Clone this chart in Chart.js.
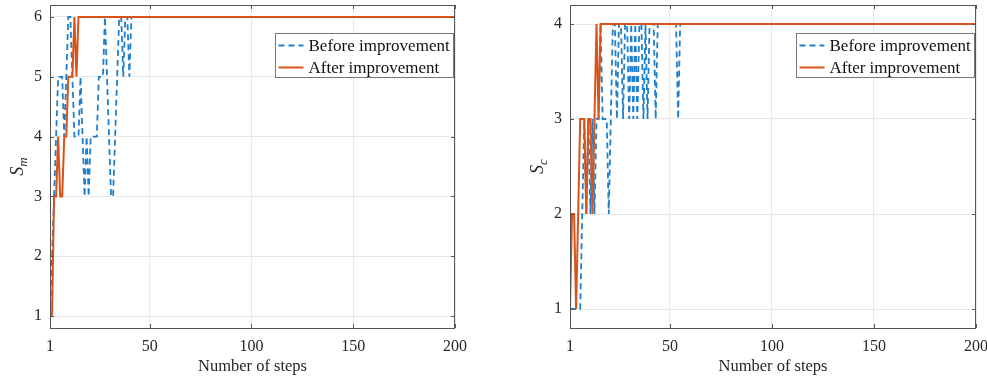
<!DOCTYPE html>
<html>
<head>
<meta charset="utf-8">
<script src="https://cdn.jsdelivr.net/npm/chart.js@4.4.1/dist/chart.umd.min.js"></script>
<style>
  html, body { margin: 0; padding: 0; background: #fff; overflow: hidden; }
  .panel { position: absolute; top: 0; height: 378px; }
  #leftPanel { left: 0; width: 493px; }
  #rightPanel { left: 494px; width: 500px; }
</style>
</head>
<body>
<div class="panel" id="leftPanel"><canvas id="smChart" width="493" height="378"></canvas></div>
<div class="panel" id="rightPanel"><canvas id="scChart" width="500" height="378"></canvas></div>
<script>
const xTicks = [1, 50, 100, 150, 200];
const finalStep = 200;
const smTicks = [1, 2, 3, 4, 5, 6];
const scTicks = [1, 2, 3, 4];
const seriesLabels = ["Before improvement", "After improvement"];

// S_m at each step, from step 1 until the value settles
const smBefore = [1, 2, 3, 4, 5, 5, 5, 4, 5, 6, 6, 5, 4, 4, 4, 5, 4, 3, 4, 3,
  4, 4, 4, 4, 5, 5, 5, 6, 5, 4, 3, 3, 4, 5, 6, 6, 5, 6, 6, 5, 6, 6];
const smAfter = [1, 1, 3, 3, 4, 3, 3, 4, 4, 5, 5, 5, 6, 5, 6];

// S_c at each step, from step 1 until the value settles
const scBefore = [1, 1, 1, 1, 1, 1, 2, 3, 2, 3, 2, 3, 2, 3, 3, 4, 3, 3, 3, 2,
  3, 4, 4, 3, 4, 4, 3, 4, 4, 3, 4, 3, 4, 3, 4, 4, 3, 4, 3, 4,
  4, 4, 3, 4, 4, 4, 4, 4, 4, 4, 4, 4, 4, 3, 4];
const scAfter = [1, 2, 2, 1, 2, 3, 3, 3, 2, 3, 3, 2, 3, 4, 3, 4];

const blue = "#1f7fcc";
const orange = "#d95319";
const serif = "'Liberation Serif', 'Times New Roman', serif";

Chart.defaults.font.family = serif;
Chart.defaults.color = "#262626";

// hold the last value flat up to the final step
function toPoints(values) {
  const pts = values.map((v, i) => ({ x: i + 1, y: v }));
  pts.push({ x: finalStep, y: values[values.length - 1] });
  return pts;
}

// box, inward ticks, legend and y label drawn over the plot
const frameDecor = {
  id: "frameDecor",
  afterDraw(chart, args, opts) {
    const { ctx, chartArea: a, scales } = chart;
    ctx.save();

    // inward ticks
    ctx.strokeStyle = "#555";
    ctx.lineWidth = 1;
    ctx.beginPath();
    scales.x.ticks.forEach((t) => {
      const px = Math.round(scales.x.getPixelForValue(t.value)) + 0.5;
      ctx.moveTo(px, a.bottom); ctx.lineTo(px, a.bottom - 4);
      ctx.moveTo(px, a.top); ctx.lineTo(px, a.top + 4);
    });
    scales.y.ticks.forEach((t) => {
      const py = Math.round(scales.y.getPixelForValue(t.value)) + 0.5;
      ctx.moveTo(a.left, py); ctx.lineTo(a.left + 4, py);
      ctx.moveTo(a.right, py); ctx.lineTo(a.right - 4, py);
    });
    ctx.stroke();
    ctx.strokeRect(Math.round(a.left) + 0.5, Math.round(a.top) + 0.5,
      Math.round(a.width) - 1, Math.round(a.height));

    // legend
    const bw = 178, bh = 44;
    const bx = Math.round(a.right - 2 - bw) + 0.5;
    const by = Math.round(a.top + 28) + 0.5;
    ctx.fillStyle = "#fff";
    ctx.fillRect(bx, by, bw, bh);
    ctx.strokeStyle = "#777";
    ctx.strokeRect(bx, by, bw, bh);
    ctx.font = "17px " + serif;
    ctx.textBaseline = "middle";
    chart.data.datasets.forEach((ds, i) => {
      const ly = by + 12 + i * 22;
      ctx.strokeStyle = ds.borderColor;
      ctx.lineWidth = ds.borderWidth;
      ctx.setLineDash(ds.borderDash || []);
      ctx.beginPath();
      ctx.moveTo(bx + 3, ly); ctx.lineTo(bx + 28, ly);
      ctx.stroke();
      ctx.setLineDash([]);
      ctx.fillStyle = "#111";
      ctx.fillText(ds.label, bx + 33, ly + 1);
    });

    // y axis label with subscript
    ctx.translate(opts.labelX, (a.top + a.bottom) / 2);
    ctx.rotate(-Math.PI / 2);
    ctx.fillStyle = "#262626";
    ctx.font = "italic 18px " + serif;
    const sw = ctx.measureText(opts.symbol).width;
    ctx.font = "italic 13px " + serif;
    const subw = ctx.measureText(opts.sub).width;
    const x0 = -(sw + subw) / 2;
    ctx.textBaseline = "alphabetic";
    ctx.font = "italic 18px " + serif;
    ctx.fillText(opts.symbol, x0, 5);
    ctx.font = "italic 13px " + serif;
    ctx.fillText(opts.sub, x0 + sw, 9);
    ctx.restore();
  },
};
Chart.register(frameDecor);

function makeChart(canvasId, before, after, yMin, yMax, yTicks, sub, padLeft, padRight, labelX) {
  const ctx = document.getElementById(canvasId).getContext("2d");
  return new Chart(ctx, {
    type: "line",
    data: {
      datasets: [
        {
          label: seriesLabels[0],
          data: toPoints(before),
          borderColor: blue,
          borderWidth: 1.8,
          borderDash: [6, 4],
          pointRadius: 0,
          order: 1,
        },
        {
          label: seriesLabels[1],
          data: toPoints(after),
          borderColor: orange,
          borderWidth: 2,
          pointRadius: 0,
          order: 0,
        },
      ],
    },
    options: {
      responsive: false,
      animation: false,
      layout: { padding: { left: padLeft, right: padRight, top: 5, bottom: 0 } },
      plugins: {
        legend: { display: false },
        tooltip: { enabled: false },
        frameDecor: { symbol: "S", sub: sub, labelX: labelX },
      },
      scales: {
        x: {
          type: "linear",
          min: 1,
          max: finalStep,
          afterBuildTicks: (scale) => { scale.ticks = xTicks.map((v) => ({ value: v })); },
          afterFit: (scale) => {
            scale.height = 50;
            scale.paddingLeft = 0;
            scale.paddingRight = 0;
          },
          ticks: { font: { size: 16 }, padding: 9, maxRotation: 0 },
          grid: { color: "#e8e8e8", drawTicks: false },
          border: { display: false },
          title: { display: true, text: "Number of steps", font: { size: 16.5 }, padding: { top: 0, bottom: 1 } },
        },
        y: {
          type: "linear",
          min: yMin,
          max: yMax,
          afterBuildTicks: (scale) => { scale.ticks = yTicks.map((v) => ({ value: v })); },
          afterFit: (scale) => {
            scale.width = 50;
            scale.paddingTop = 0;
            scale.paddingBottom = 0;
          },
          ticks: { font: { size: 16 }, padding: 8 },
          grid: { color: "#e8e8e8", drawTicks: false },
          border: { display: false },
        },
      },
    },
  });
}

makeChart("smChart", smBefore, smAfter, 0.8, 6.2, smTicks, "m", 0, 38, 18);
makeChart("scChart", scBefore, scAfter, 0.8, 4.2, scTicks, "c", 26, 18, 44);
</script>
</body>
</html>
